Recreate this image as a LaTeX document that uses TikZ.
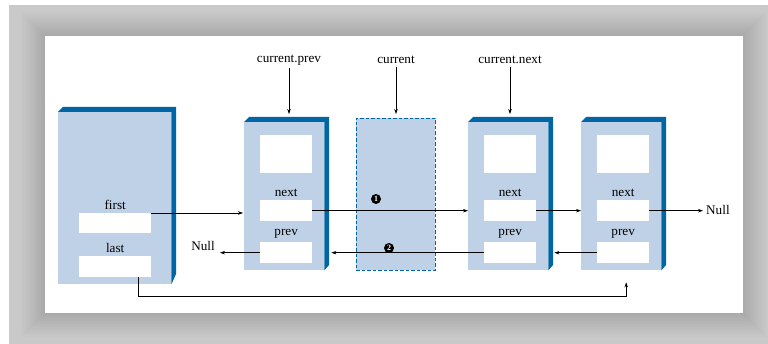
\documentclass[tikz,border=0pt]{standalone}
\usepackage{fontspec}
\setmainfont{Liberation Serif}
\usetikzlibrary{arrows.meta, positioning}
\definecolor{boxBlue}{HTML}{BFD1E7}
\definecolor{edgeBlue}{HTML}{0065A5}
\tikzset{
  front/.style={fill=boxBlue, inner sep=0pt, minimum width=80pt, minimum height=148pt},
  slot/.style={fill=white, inner sep=0pt, minimum width=52pt, minimum height=21pt},
  tag/.style={font=\fontsize{13.2}{15}\selectfont, inner sep=3pt},
  link/.style={-{Stealth[length=5pt,width=3.5pt]}, line width=0.6pt},
  badge/.style={circle, fill=black, text=white, inner sep=0pt, minimum size=10pt,
                font=\fontsize{8}{8}\selectfont\bfseries},
}

\begin{document}
\begin{tikzpicture}[x=1pt, y=-1pt]
\useasboundingbox (0,0) rectangle (768,344);
% frame
\fill[white] (0,0) rectangle (768,344);
\fill[black!21] (9,5) rectangle (768,344);
\foreach \i [evaluate=\i as \d using 26-2*\i, evaluate=\i as \p using 21+\i] in {0,...,13}
  \fill[black!\p] (45-\d,36-\d) rectangle (743+\d,313+\d);
\fill[white] (45,36) rectangle (743,313);

% list header
\node[front, minimum width=113pt, minimum height=172pt, anchor=north west] (head) at (58,112) {};
\fill[edgeBlue] (head.north west) -- ++(5,-5) -- ++(113,0) -- ++(0,167) -- (head.south east) -- (head.north east) -- cycle;
\node[slot, minimum width=72pt, minimum height=20pt, anchor=north west] (first) at (79,213) {};
\node[slot, minimum width=72pt, anchor=north west] (last) at (79,256) {};
\node[tag, above=0pt of first] {first};
\node[tag, above=0pt of last] {last};

% list nodes
\foreach \nm/\x in {prv/244, nxt/468, tail/581} {
  \node[front, anchor=north west] (\nm) at (\x,122) {};
  \fill[edgeBlue] (\nm.north west) -- ++(5,-5) -- ++(80,0) -- ++(0,148) -- (\nm.south east) -- (\nm.north east) -- cycle;
  \node[slot, minimum height=38pt, anchor=north west] (\nm-data) at (\x+16,135) {};
  \node[slot, anchor=north west] (\nm-next) at (\x+16,200) {};
  \node[slot, anchor=north west] (\nm-prev) at (\x+16,242) {};
  \node[tag, above=0pt of \nm-next] {next};
  \node[tag, above=0pt of \nm-prev] {prev};
}

% removed node
\node[front, minimum width=79pt, minimum height=152pt, anchor=north west,
      draw=edgeBlue, dash pattern=on 3.5pt off 2pt, line width=0.9pt] (cur) at (356,118) {};

% pointers
\node[tag] (lprev) at (289,60) {current.prev};
\node[tag] (lcur) at (396,60) {current};
\node[tag] (lnext) at (510,60) {current.next};
\draw[link, shorten >=8pt] (lprev.south) -- (lprev.south |- prv.north);
\draw[link, shorten >=4pt] (lcur.south) -- (lcur.south |- cur.north);
\draw[link, shorten >=8pt] (lnext.south) -- (lnext.south |- nxt.north);

\node[tag, anchor=west] (nullR) at (703,210) {Null};
\node[tag, anchor=east] (nullL) at (218,246) {Null};

\draw[link, shorten >=1pt] (first.north east) -- (first.north east -| prv.west);
\draw[link] (prv-next.east) -- (prv-next.east -| nxt.west);
\draw[link] (nxt-next.east) -- (nxt-next.east -| tail.west);
\draw[link] (tail-next.east) -- (tail-next.east -| nullR.west);
\draw[link] (tail-prev.west) -- ([xshift=6pt]nxt.east |- tail-prev.west);
\draw[link] (nxt-prev.west) -- ([xshift=7pt]prv.east |- nxt-prev.west);
\draw[link, shorten >=2pt] (prv-prev.west) -- (prv-prev.west -| nullL.east);
\draw[link] ([xshift=23pt]last.south) -- ++(0,19) -| ([xshift=5pt,yshift=-12pt]tail.south);

\node[badge] (b1) at (376,199) {1};
\node[badge] (b2) at (389,248) {2};
\end{tikzpicture}
\end{document}
